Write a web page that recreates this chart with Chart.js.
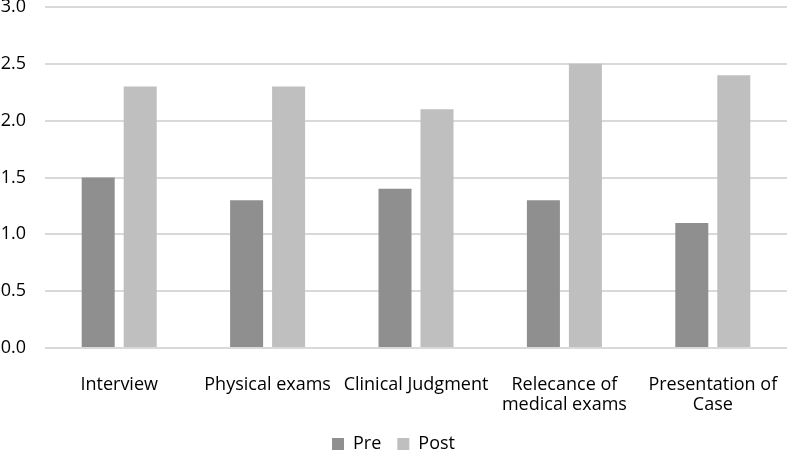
<!DOCTYPE html>
<html>
<head>
<meta charset="utf-8">
<script src="https://cdn.jsdelivr.net/npm/chart.js@4/dist/chart.umd.min.js"></script>
<style>
  html, body { margin: 0; padding: 0; background: #fff; }
  #wrap { width: 787px; height: 452px; position: relative; }
</style>
</head>
<body>
<div id="wrap"><canvas id="barChart"></canvas></div>
<script>
// categories and values
var categories = ["Interview", "Physical exams", "Clinical Judgment", ["Relecance of", "medical exams"], ["Presentation of", "Case"]];
var preValues = [1.5, 1.3, 1.4, 1.3, 1.1];
var postValues = [2.3, 2.3, 2.1, 2.5, 2.4];
var seriesNames = ["Pre", "Post"];

var fontFamily = "'Open Sans', 'Liberation Sans', sans-serif";

const data = {
  labels: categories,
  datasets: [{
    label: seriesNames[0],
    data: preValues,
    backgroundColor: '#8f8f8f',
    categoryPercentage: 0.566,
    barPercentage: 0.786
  }, {
    label: seriesNames[1],
    data: postValues,
    backgroundColor: '#bfbfbf',
    categoryPercentage: 0.566,
    barPercentage: 0.786
  }]
};

const config = {
  type: 'bar',
  data: data,
  options: {
    responsive: true,
    maintainAspectRatio: false,
    animation: false,
    layout: { padding: { left: 0, right: 0, top: 0, bottom: -11 } },
    plugins: {
      tooltip: { enabled: false },
      legend: {
        position: 'bottom',
        labels: {
          boxWidth: 12,
          boxHeight: 12,
          padding: 16,
          color: '#000',
          font: { family: fontFamily, size: 18 }
        }
      }
    },
    scales: {
      x: {
        grid: { display: false, drawTicks: false },
        border: { display: false },
        ticks: {
          color: '#000',
          padding: 27,
          maxRotation: 0,
          autoSkip: false,
          font: { family: fontFamily, size: 18, lineHeight: 1.1 }
        },
        afterFit: function(scale) {
          scale.height = 71;
          scale.paddingLeft = 0;
          scale.paddingRight = 0;
        }
      },
      y: {
        min: 0,
        max: 3,
        grid: { color: '#d9d9d9', lineWidth: 2, drawTicks: false },
        border: { display: false },
        ticks: {
          stepSize: 0.5,
          color: '#000',
          padding: 19,
          font: { family: fontFamily, size: 18 },
          callback: function(v) { return Number(v).toFixed(1); }
        },
        afterFit: function(scale) {
          scale.width = 45;
          scale.paddingTop = 7;
          scale.paddingBottom = 0;
          scale.paddingRight = 0;
        }
      }
    }
  }
};

var ctx = document.getElementById('barChart').getContext('2d');
var makeBarChart = (ctx, config) => new Chart(ctx, config);
makeBarChart(ctx, config);
</script>
</body>
</html>
